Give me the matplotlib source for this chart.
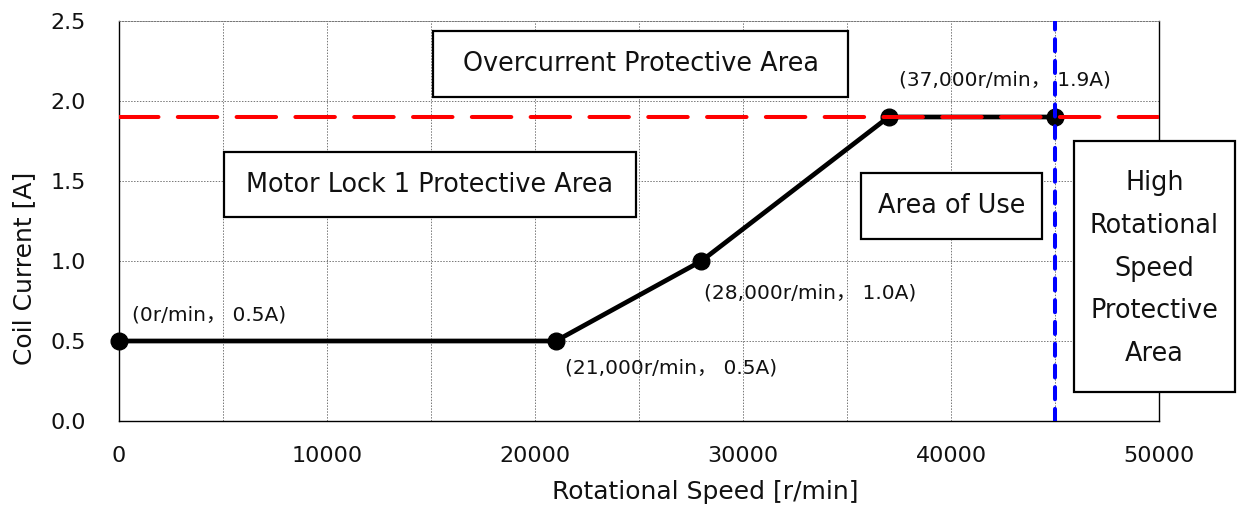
import matplotlib
matplotlib.use('Agg')
import matplotlib.pyplot as plt
from matplotlib.patches import Rectangle

# ---- data ----
speed = [0, 21000, 28000, 37000, 45000]
current = [0.5, 0.5, 1.0, 1.9, 1.9]
label_speed = [0, 21000, 28000, 37000]
label_current = [0.5, 0.5, 1.0, 1.9]
point_labels = ["(0r/min， 0.5A)", "(21,000r/min， 0.5A)",
                "(28,000r/min， 1.0A)", "(37,000r/min， 1.9A)"]
overcurrent_limit = 1.9
speed_limit = 45000
x_ticks = [0, 10000, 20000, 30000, 40000, 50000]
y_ticks = [0.0, 0.5, 1.0, 1.5, 2.0, 2.5]
x_grid = [5000, 15000, 25000, 35000, 45000]
area_texts = ["Overcurrent Protective Area", "Motor Lock 1 Protective Area",
              "Area of Use", "High\nRotational\nSpeed\nProtective\nArea"]

plt.rcParams['font.family'] = ['DejaVu Sans', 'Noto Sans CJK JP']

W, H = 1237, 511
fig = plt.figure(figsize=(W / 100, H / 100), dpi=100)
L, R, T, B = 119, 1159, 21, 421
ax = fig.add_axes([L / W, 1 - B / H, (R - L) / W, (B - T) / H])

ax.set_xlim(0, 50000)
ax.set_ylim(0, 2.5)
ax.set_xticks(x_ticks)
ax.set_xticklabels([str(v) for v in x_ticks])
ax.set_yticks(y_ticks)
ax.set_yticklabels([f"{v:.1f}" for v in y_ticks])
ax.set_xticks(x_grid, minor=True)
ax.tick_params(axis='both', which='both', length=0, labelsize=16, colors='#111111')
ax.tick_params(axis='x', pad=18)
ax.tick_params(axis='y', pad=24)
ax.grid(True, which='both', color='#777777', linestyle=(0, (1.5, 1.5)), linewidth=0.7)
ax.set_axisbelow(True)

for s in ['left', 'bottom', 'right']:
    ax.spines[s].set_color('black')
    ax.spines[s].set_linewidth(1.0)
ax.spines['top'].set_color('#777777')
ax.spines['top'].set_linestyle((0, (1.5, 1.5)))
ax.spines['top'].set_linewidth(0.7)

ax.set_xlabel("Rotational Speed [r/min]", fontsize=18, color='#111111')
ax.set_ylabel("Coil Current [A]", fontsize=18, color='#111111')
ax.xaxis.label.set_va('center')
ax.yaxis.label.set_va('center')
ax.xaxis.set_label_coords((705 - L) / (R - L), (B - 492) / (B - T))
ax.yaxis.set_label_coords((24 - L) / (R - L), (B - 268) / (B - T))

# main curve
ax.plot(speed, current, color='black', linewidth=3.4, marker='o',
        markersize=12, zorder=3, clip_on=False)

# limits
ax.axhline(overcurrent_limit, color='#ff0000', linewidth=2.9,
           linestyle=(0, (9.8, 4.8)), dash_capstyle='round', zorder=4)
ax.axvline(speed_limit, color='#0000ff', linewidth=2.9,
           linestyle=(0, (3.0, 2.4)), dash_capstyle='round', zorder=5)

# point labels
offsets = [(13, 26), (9, -27), (3, -32), (10, 37)]
for xs, yc, txt, off in zip(label_speed, label_current, point_labels, offsets):
    ax.annotate(txt, (xs, yc), xytext=off, textcoords='offset pixels',
                ha='left', va='center', fontsize=14.5, color='#111111', zorder=6)

# area boxes (pixel geometry)
boxes = [(433, 31, 848, 97), (224, 152, 636, 217), (861, 173, 1042, 239),
         (1074, 141, 1235, 392)]
for (x0, y0, x1, y1), txt in zip(boxes, area_texts):
    fig.patches.append(Rectangle((x0 / W, 1 - y1 / H), (x1 - x0) / W, (y1 - y0) / H,
                                 transform=fig.transFigure, facecolor='white',
                                 edgecolor='black', linewidth=1.6, zorder=7))
    fig.text((x0 + x1) / 2 / W, 1 - (y0 + y1) / 2 / H + (-2 / H if '\n' in txt else 0),
             txt, ha='center', va='center',
             fontsize=18.4, color='#111111', linespacing=1.83, zorder=8,
             multialignment='center')

fig.savefig('out.png', dpi=100)
